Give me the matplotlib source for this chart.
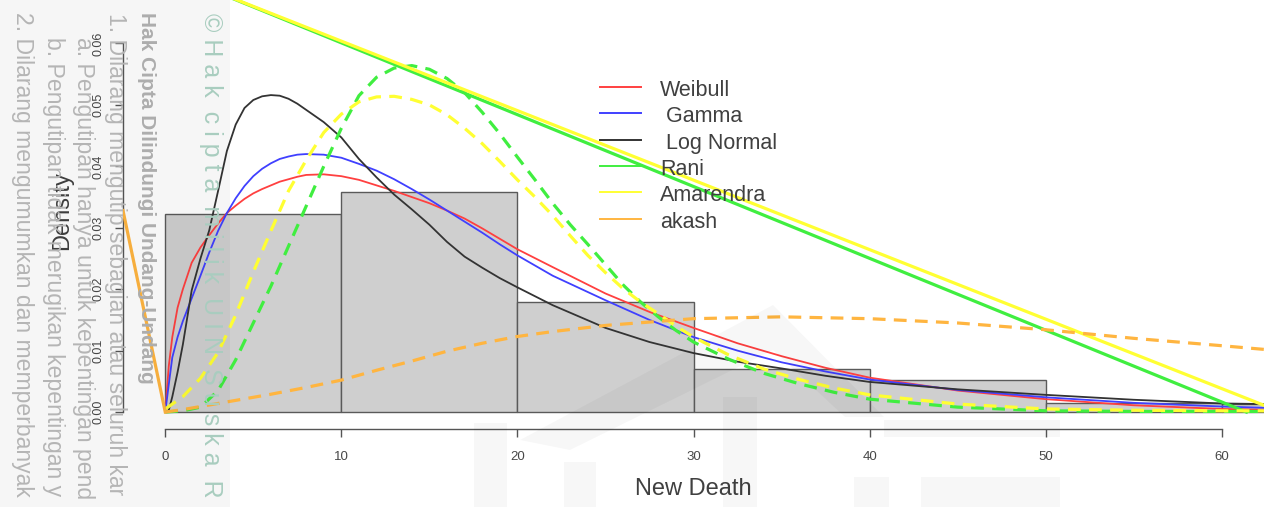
import numpy as np
import matplotlib
matplotlib.use("Agg")
import matplotlib.pyplot as plt
from matplotlib.patches import Rectangle, Polygon
from matplotlib.lines import Line2D

plt.rcParams['font.family'] = ['Liberation Sans', 'DejaVu Sans']

# === DATA ===
bin_edges = [0, 10, 20, 30, 40, 50, 60, 70]
bin_density = [0.0322, 0.0358, 0.0179, 0.0070, 0.0052, 0.0014, 0.0013]

x_fit = [0, 0.2, 0.4, 0.7, 1, 1.5, 2, 2.5, 3, 3.5, 4, 4.5, 5, 5.5, 6, 6.5, 7,
         7.5, 8, 9, 10, 11, 12, 13, 14, 15, 16, 17, 18, 19, 20, 22, 25, 27.5,
         30, 32.5, 35, 37.5, 40, 45, 50, 55, 60, 62.4]
weibull = [0, 0.0075, 0.0122, 0.0170, 0.0200, 0.0243, 0.0268, 0.0288, 0.0307,
           0.0324, 0.0336, 0.0347, 0.0356, 0.0363, 0.0369, 0.0375, 0.0379,
           0.0383, 0.0386, 0.0387, 0.0384, 0.0378, 0.0369, 0.0360, 0.0350,
           0.0340, 0.0328, 0.0315, 0.0299, 0.0282, 0.0265, 0.0236, 0.0193,
           0.0163, 0.0137, 0.0112, 0.0091, 0.0072, 0.0056, 0.0035, 0.0021,
           0.0011, 0.0005, 0.0004]
gamma = [0, 0.0045, 0.0089, 0.0122, 0.0148, 0.0185, 0.0222, 0.0260, 0.0295,
         0.0324, 0.0348, 0.0368, 0.0384, 0.0396, 0.0405, 0.0412, 0.0416,
         0.0419, 0.0420, 0.0419, 0.0414, 0.0404, 0.0393, 0.0379, 0.0363,
         0.0346, 0.0328, 0.0310, 0.0292, 0.0273, 0.0255, 0.0222, 0.0182,
         0.0150, 0.0122, 0.0100, 0.0081, 0.0066, 0.0053, 0.0036, 0.0024,
         0.0015, 0.0009, 0.0007]
lognormal = [0, 0.0003, 0.0025, 0.0065, 0.0110, 0.0198, 0.0250, 0.0296, 0.0360,
             0.0425, 0.0468, 0.0495, 0.0508, 0.0514, 0.0516, 0.0515, 0.0510,
             0.0502, 0.0492, 0.0472, 0.0447, 0.0412, 0.0382, 0.0354, 0.0330,
             0.0305, 0.0277, 0.0253, 0.0235, 0.0218, 0.0203, 0.0174, 0.0137,
             0.0114, 0.0096, 0.0082, 0.0071, 0.0059, 0.0049, 0.0037, 0.0028,
             0.0020, 0.0014, 0.0013]

x_new = [0, 1, 2, 3, 4, 5, 6, 7, 8, 9, 10, 11, 12, 13, 14, 15, 16, 17, 18, 19,
         20, 21, 22, 23, 24, 25, 26, 27, 28, 29, 30, 32, 34, 36, 38, 40, 45,
         50, 55, 60, 62.4]
rani = [0, 0.0002, 0.0008, 0.0035, 0.0085, 0.0145, 0.0205, 0.027, 0.0335,
        0.040, 0.0462, 0.0515, 0.0545, 0.056, 0.0564, 0.0558, 0.0543, 0.052,
        0.0488, 0.0453, 0.0415, 0.0378, 0.034, 0.0305, 0.0273, 0.0240, 0.0207,
        0.0179, 0.0155, 0.0133, 0.0114, 0.0086, 0.0063, 0.0046, 0.0032,
        0.0021, 0.0008, 0.0002, 0.0001, 0.0001, 0.0001]
amarendra = [0.0005, 0.0025, 0.0055, 0.0097, 0.0158, 0.0228, 0.0295, 0.036,
             0.041, 0.0455, 0.0485, 0.0505, 0.0513, 0.0514, 0.0509, 0.0500,
             0.0484, 0.0462, 0.0437, 0.0408, 0.0378, 0.0350, 0.0320, 0.0287,
             0.0255, 0.0227, 0.0201, 0.0179, 0.0160, 0.0140, 0.0122, 0.0093,
             0.0070, 0.0053, 0.0039, 0.0028, 0.0013, 0.0005, 0.0003, 0.0002,
             0.0002]

x_akash = [0, 1, 2, 3, 4, 5, 6, 8, 10, 12, 14, 16, 18, 20, 22, 25, 30, 35,
           40, 45, 50, 55, 60, 62.4]
akash = [0, 0.0004, 0.0009, 0.0014, 0.0019, 0.0024, 0.0029, 0.0040, 0.0052,
         0.0068, 0.0083, 0.0099, 0.0112, 0.0123, 0.0131, 0.0141, 0.0152,
         0.0155, 0.0152, 0.0145, 0.0134, 0.0120, 0.0108, 0.0102]

# the solid (straight) lines
rani_line_x, rani_line_y = [0, 61.4], [0.0718, 0]
amar_line_x, amar_line_y = [0, 62.4], [0.0717, 0.0011]
akash_line_x, akash_line_y = [-2.4, 0], [0.0328, 0]

names = ["Weibull", " Gamma", " Log Normal", "Rani", "Amarendra", "akash"]
colors = ["#ff4040", "#4040ff", "#333333", "#40ee40", "#ffff33", "#ffb540"]

# === FIGURE ===
W, H = 1272, 507
fig = plt.figure(figsize=(W / 100, H / 100), dpi=100)
fig.patch.set_facecolor("white")

# plot region in pixels: x 123..1264, y -29..429 (top is cropped off)
ax = fig.add_axes([123 / W, (H - 429) / H, (1264 - 123) / W, (429 + 29) / H])
ax.set_xlim(-2.4, 62.4)
ax.set_ylim(-0.00276, 0.0718)
ax.patch.set_alpha(0)

widths = np.diff(bin_edges)
ax.bar(bin_edges[:-1], bin_density, width=widths, align="edge",
       color="#cfcfcf", edgecolor="#5a5a5a", linewidth=1.0, zorder=1)

lw_c = 1.3
ax.plot(x_fit, weibull, color=colors[0], lw=lw_c, zorder=3)
ax.plot(x_fit, gamma, color=colors[1], lw=lw_c, zorder=3)
ax.plot(x_fit, lognormal, color=colors[2], lw=lw_c, zorder=3)

dash = (4, 2.6)
ax.plot(rani_line_x, rani_line_y, color=colors[3], lw=2.3, zorder=4)
ax.plot(x_new, rani, color=colors[3], lw=2.3, dashes=dash, zorder=4)
ax.plot(amar_line_x, amar_line_y, color=colors[4], lw=2.3, zorder=4)
ax.plot(x_new, amarendra, color=colors[4], lw=2.3, dashes=dash, zorder=4)
ax.plot(akash_line_x, akash_line_y, color=colors[5], lw=2.3, zorder=4)
ax.plot(x_akash, akash, color=colors[5], lw=2.3, dashes=dash, zorder=4)

# R style axes
for s in ["top", "right"]:
    ax.spines[s].set_visible(False)
ax.spines["bottom"].set_bounds(0, 60)
ax.spines["left"].set_bounds(0, 0.06)
for s in ["bottom", "left"]:
    ax.spines[s].set_color("#555555")
    ax.spines[s].set_linewidth(1.0)
ax.set_xticks([0, 10, 20, 30, 40, 50, 60])
ax.set_yticks([0, 0.01, 0.02, 0.03, 0.04, 0.05, 0.06])
ax.set_yticklabels(["0.00", "0.01", "0.02", "0.03", "0.04", "0.05", "0.06"])
ax.tick_params(direction="out", length=5.8, width=1.0, color="#555555",
               labelcolor="#484848")
ax.tick_params(axis="x", labelsize=9.5, pad=10)
ax.tick_params(axis="y", labelsize=9, pad=7.5, labelrotation=90)
for t in ax.get_yticklabels():
    t.set_va("center")

fig.text(693 / W, 1 - 489 / H, "New Death", fontsize=17, color="#404040",
         ha="center", va="center")
fig.text(62 / W, 1 - 211 / H, "Density", fontsize=17, color="#404040",
         ha="center", va="center", rotation=90)

# legend (no box)
for i, (nm, c) in enumerate(zip(names, colors)):
    yl = 1 - (87 + 26.3 * i) / H
    fig.add_artist(Line2D([600 / W, 641 / W], [yl, yl], color=c, lw=1.4))
    fig.text(660 / W, 1 - (96 + 26.3 * i) / H, nm, fontsize=15.5,
             color="#404040", ha="left", va="baseline")

# === watermark overlay ===
fig.add_artist(Rectangle((0, 0), 230 / W, 1, transform=fig.transFigure,
                         facecolor="black", alpha=0.035, lw=0, zorder=10))
logo_rects = [(474, 423, 507, 507), (564, 462, 596, 507), (723, 397, 757, 507),
              (854, 477, 889, 507), (921, 477, 1060, 507), (884, 420, 1060, 437)]
for x0, y0, x1, y1 in logo_rects:
    fig.add_artist(Rectangle((x0 / W, 1 - y1 / H), (x1 - x0) / W, (y1 - y0) / H,
                             transform=fig.transFigure, facecolor="black",
                             alpha=0.03, lw=0, zorder=10))
roof = [(520 / W, 1 - 440 / H), (773 / W, 1 - 305 / H), (884 / W, 1 - 417 / H),
        (845 / W, 1 - 417 / H), (773 / W, 1 - 350 / H), (570 / W, 1 - 450 / H)]
fig.add_artist(Polygon(roof, closed=True, transform=fig.transFigure,
                       facecolor="black", alpha=0.03, lw=0, zorder=10))

wm_grey = "#b5b5b5"
wm = [
    (22, 12, "2. Dilarang mengumumkan dan memperbanyak", 16.6, "normal", wm_grey),
    (53, 37, "b. Pengutipan tidak merugikan kepentingan y", 16.6, "normal", wm_grey),
    (83, 37, "a. Pengutipan hanya untuk kepentingan pend", 16.6, "normal", wm_grey),
    (115, 13, "1. Dilarang mengutip sebagian atau seluruh kar", 16.6, "normal", wm_grey),
    (146, 12, "Hak Cipta Dilindungi Undang-Undang", 15, "bold", "#adadad"),
    (211, 13, "\u00a9 H a k  c i p t a  m i l i k  U I N  S u s k a  R", 18, "normal", "#a9cdbf"),
]
for xp, yp, txt, fs, fw, col in wm:
    fig.text(xp / W, 1 - yp / H, txt, fontsize=fs, fontweight=fw, color=col,
             rotation=-90, ha="center", va="top", zorder=11)

fig.savefig("out.png", dpi=100)
